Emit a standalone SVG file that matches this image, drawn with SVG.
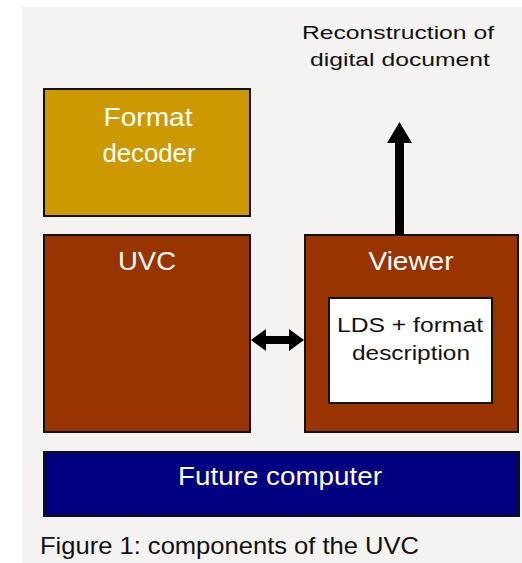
<svg xmlns="http://www.w3.org/2000/svg" width="522" height="563" viewBox="0 0 522 563">
<style>
.box{stroke:#111;stroke-width:2}
.t{font-family:"Liberation Sans",Arial,sans-serif;fill:#fff;text-anchor:middle}
.k{font-family:"Liberation Sans",Arial,sans-serif;fill:#111}
</style>
<rect width="522" height="563" fill="#fff"/>
<rect x="22" y="7" width="500" height="556" fill="#f4f3f1"/>
<text class="k" x="302" y="39" font-size="18" textLength="192" lengthAdjust="spacingAndGlyphs">Reconstruction of</text>
<text class="k" x="310" y="66" font-size="18" textLength="180" lengthAdjust="spacingAndGlyphs">digital document</text>
<g id="format-decoder">
<rect class="box" x="44" y="89" width="206" height="127" fill="#cc9900"/>
<text class="t" x="148" y="126" font-size="26" textLength="89" lengthAdjust="spacingAndGlyphs">Format</text>
<text class="t" x="149" y="162" font-size="26" textLength="93" lengthAdjust="spacingAndGlyphs">decoder</text>
</g>
<g id="uvc">
<rect class="box" x="44" y="235" width="206" height="197" fill="#993300"/>
<text class="t" x="147" y="270" font-size="26" textLength="58" lengthAdjust="spacingAndGlyphs">UVC</text>
</g>
<g id="viewer">
<rect class="box" x="305" y="235" width="213" height="197" fill="#993300"/>
<text class="t" x="411" y="270" font-size="26" textLength="85" lengthAdjust="spacingAndGlyphs">Viewer</text>
</g>
<g id="lds">
<rect class="box" x="329" y="298" width="163" height="105" fill="#fff"/>
<text class="k" x="337" y="332" font-size="20" textLength="146" lengthAdjust="spacingAndGlyphs">LDS + format</text>
<text class="k" x="352" y="360" font-size="20" textLength="118" lengthAdjust="spacingAndGlyphs">description</text>
</g>
<g id="future-computer">
<rect class="box" x="44" y="452" width="475" height="64" fill="#000080"/>
<text class="t" x="280" y="485" font-size="26" textLength="204" lengthAdjust="spacingAndGlyphs">Future computer</text>
</g>
<g id="connectors" fill="#000">
<path d="M395,235 L395,143 L387,143 L399.5,122 L412,143 L404,143 L404,235 Z"/>
<path d="M251,340 L266,329 L266,336 L289,336 L289,329 L304,340 L289,351 L289,344 L266,344 L266,351 Z"/>
</g>
<text class="k" x="40" y="554" font-size="24" textLength="379" lengthAdjust="spacingAndGlyphs">Figure 1: components of the UVC</text>
</svg>
